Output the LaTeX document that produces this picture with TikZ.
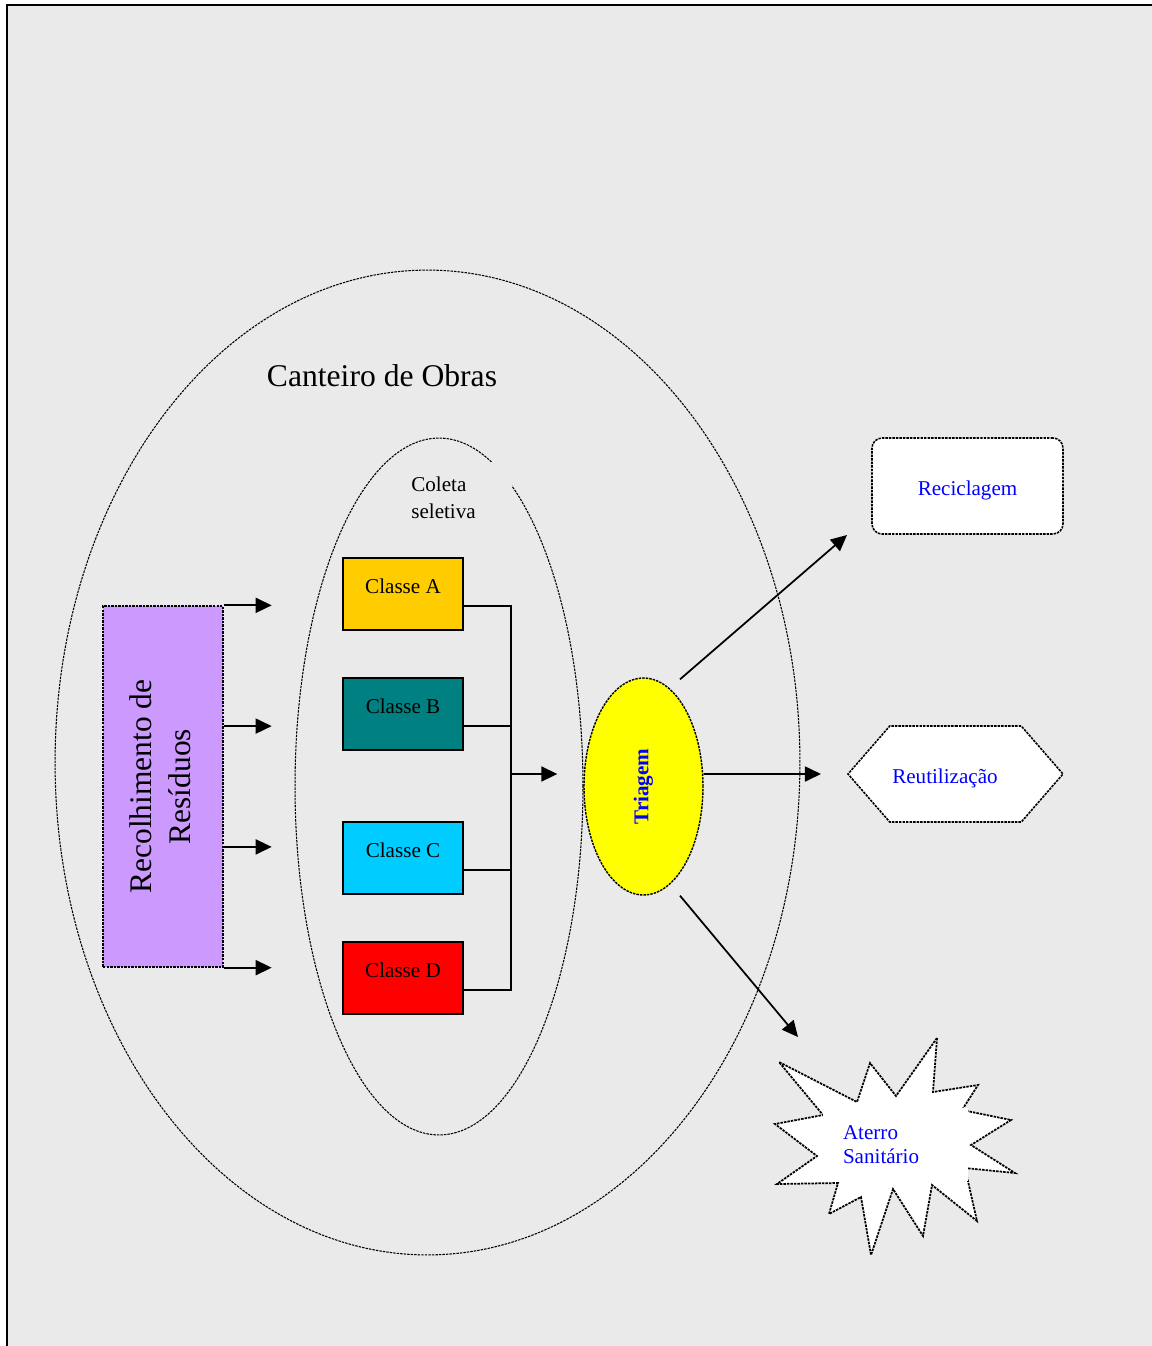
\documentclass[tikz,border=0pt]{standalone}
\usepackage{fontspec}
\setmainfont{Liberation Serif}
\usetikzlibrary{arrows.meta,shapes.geometric,shapes.symbols,positioning,calc}

\def\px{0.02cm}
\definecolor{bg}{HTML}{EAEAEA}
\definecolor{amber}{HTML}{FFCC00}
\definecolor{tealbox}{HTML}{008080}
\definecolor{skybox}{HTML}{00CCFF}
\definecolor{redbox}{HTML}{FF0000}
\definecolor{lilac}{HTML}{CC99FF}
\definecolor{sorter}{HTML}{FFFF00}
\definecolor{ink}{HTML}{0000FF}

\begin{document}
\begin{tikzpicture}[x=\px,y=-\px,font=\fontsize{12}{14}\selectfont]
	\tikzstyle{dots}=[draw=black, line width=0.6pt, dash pattern=on 1.4pt off 0.6pt]
	\tikzstyle{flow}=[-{Triangle[length=0.32cm,width=0.3cm]}, line width=1pt]
	\tikzstyle{classbox}=[draw=black, line width=1pt, minimum width=2.4cm, minimum height=1.44cm, inner sep=0pt, text depth=0.32cm]
	\tikzstyle{outbox}=[dots, line width=0.9pt, fill=white, text=ink, inner sep=0pt, text height=0.46cm, text depth=0.09cm]
	
	% Page and frame
	\useasboundingbox (0,0) rectangle (1152,1346);
	\fill[bg] (7,5) rectangle (1152,1346);
	\draw[line width=0.04cm] (1152,5) -- (7,5) -- (7,1346);
	
	% Draw the two rings
	\node[ellipse, dots, minimum width=14.9cm, minimum height=19.7cm, inner sep=0pt] (site) at (427.5,762.5) {};
	\node[font=\fontsize{18}{21}\selectfont] (sitelabel) at (382,376) {Canteiro de Obras};
	\node[ellipse, dots, minimum width=5.76cm, minimum height=13.94cm, inner sep=0pt] (ring) at (439,786.5) {};
	\node[fill=bg, anchor=north west, text width=1.8cm, inner xsep=0.22cm, inner ysep=0.3cm, align=left,
		font=\fontsize{12}{15.3}\selectfont] (ringlabel) at (400,462) {Coleta\\seletiva};
	
	% Draw the collection box and its arrows
	\node[dots, line width=0.8pt, fill=lilac, minimum width=2.4cm, minimum height=7.22cm, inner sep=0pt,
		font=\fontsize{17.9}{22.2}\selectfont] (rec) at (163,786.5)
		{\rotatebox{90}{\begin{tabular}{@{}c@{}}Recolhimento de\\Resíduos\end{tabular}}};
	\foreach \i/\f in {1/0,2/0.3333,3/0.6667,4/1}{
		\coordinate (in-\i) at ($(rec.north east)!\f!(rec.south east)+(48,0)$);
		\draw[flow] ($(rec.north east)!\f!(rec.south east)$) -- (in-\i);
	}
	
	% Draw the class boxes
	\foreach \name/\y/\col in {A/594/amber,B/714/tealbox,C/858/skybox,D/978/redbox}
	\node[classbox, fill=\col] (C-\name) at (403,\y) {Classe \name};
	
	% Join every class box to the sorting node
	\coordinate (bus) at (511,774);
	\foreach \name in {A,B,C,D}
	\draw[line width=1pt] ([yshift=-0.24cm]C-\name.east) -| (bus);
	
	\node[ellipse, dots, line width=0.8pt, fill=sorter, minimum width=2.38cm, minimum height=4.34cm, inner sep=0pt,
		text=ink, font=\fontsize{12}{14}\selectfont\bfseries] (tri) at (643.5,786.5) {\rotatebox{90}{Triagem}};
	\draw[flow, shorten >=0.52cm] (bus) -- ([yshift=0.25cm]tri.west);
	
	% Draw the destinations
	\node[outbox, rounded corners=0.2cm, minimum width=3.82cm, minimum height=1.92cm] (recy) at (967.5,486) {Reciclagem};
	\node[outbox, signal, signal to=west and east, signal pointer angle=98,
		minimum width=4.3cm, minimum height=1.92cm] (reu) at (955.5,774) {Reutilização\hspace*{12pt}};
	\draw[dots, line width=1pt, fill=white] (937,1038) -- (933,1092) -- (978,1085) -- (962,1110) -- (1011,1120)
		-- (971,1145) -- (1015,1173) -- (965,1168) -- (977,1221) -- (932,1185) -- (923,1236)
		-- (893,1189) -- (871,1255) -- (861,1197) -- (829,1214) -- (838,1183) -- (777,1184)
		-- (817,1156) -- (775,1124) -- (823,1115) -- (779,1062) -- (857,1102) -- (870,1063)
		-- (896,1096) -- cycle;
	\node[fill=white, text=ink, minimum width=2.9cm, minimum height=1.46cm, text width=2.1cm, inner xsep=0.4cm,
		align=left, font=\fontsize{12}{13.6}\selectfont] (atr) at (895.5,1144.5) {Aterro\\Sanitário};
	
	% Connect the sorting node with the destinations
	\coordinate (recy-in) at (847,535);
	\coordinate (atr-in) at (798,1037);
	\draw[flow] ([shift={(36.5,2)}]tri.north) -- (recy-in);
	\draw[flow, shorten >=0.52cm] ([yshift=0.25cm]tri.east) -- (reu.west);
	\draw[flow] ([shift={(36.5,0)}]tri.south) -- (atr-in);
\end{tikzpicture}
\end{document}
